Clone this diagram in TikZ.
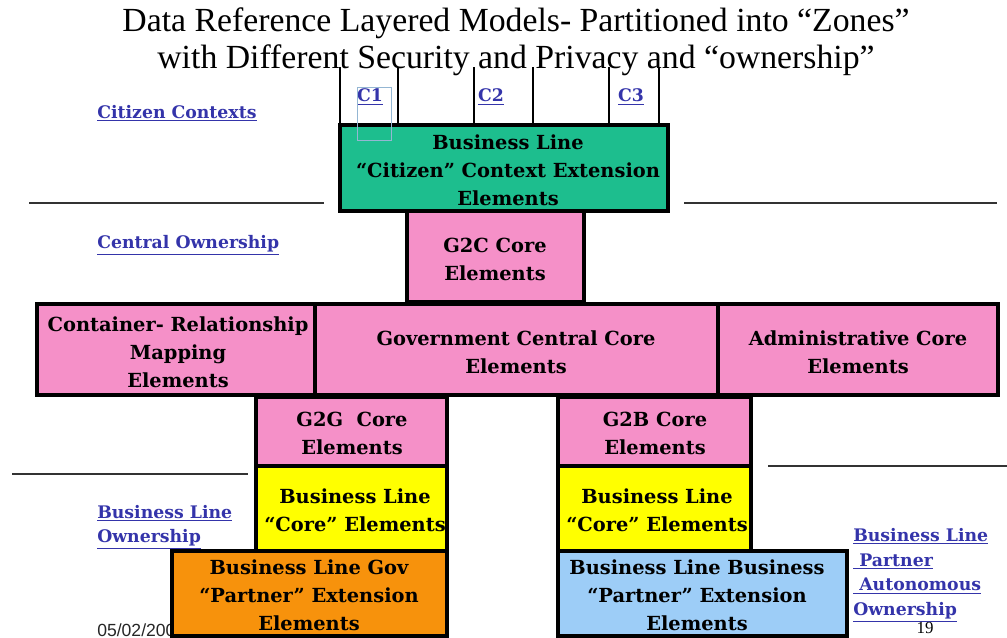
\documentclass[tikz,border=0pt]{standalone}
\usepackage{fontspec}
\setmainfont{Liberation Serif}
\newfontfamily\boxfont[Ligatures=TeX]{DejaVu Serif}
\newfontfamily\datefont{Liberation Sans}
\usepackage{tikz}
\usetikzlibrary{calc}
\definecolor{citizengreen}{HTML}{1DBE8E}
\definecolor{corepink}{HTML}{F590C8}
\definecolor{coreyellow}{HTML}{FFFF00}
\definecolor{govorange}{HTML}{F7920C}
\definecolor{busblue}{HTML}{9DCDF7}
\definecolor{linkblue}{HTML}{3434AA}

\tikzset{
  zone/.style={draw=black,line width=2.6pt},
  zonetext/.style={align=center,font=\boxfont\bfseries\fontsize{13.8}{20}\selectfont,inner sep=0pt},
  owner/.style={text=linkblue,align=left,anchor=west,inner sep=0pt,font=\boxfont\bfseries\fontsize{12.3}{17.5}\selectfont},
  sep/.style={black!80,line width=0.9pt}
}

\begin{document}
\begin{tikzpicture}[x=0.025cm,y=-0.025cm]
\useasboundingbox (0,0) rectangle (1007,638);
% title
\node (title) at (516,42) [align=center,font=\fontsize{24}{26.3}\selectfont] {Data Reference Layered Models- Partitioned into ``Zones''\\with Different Security and Privacy and ``ownership''};
% context lines from the title
\foreach \x in {340,398,474,533,609,659}
    \draw[black,line width=0.8pt] (\x,67) -- (\x,125);
\node (cone) at (370,97) [owner,anchor=center] {\underline{C1}};
\node (ctwo) at (491,97) [owner,anchor=center] {\underline{C2}};
\node (cthree) at (631,97) [owner,anchor=center] {\underline{C3}};
% zone separators
\draw[sep] (29,203) -- (324,203);
\draw[sep] (684,203) -- (997,203);
\draw[sep] (12,474) -- (248,474);
\draw[sep] (768,466) -- (1007,466);
% date (partly under the orange box)
\node (date) at (97,630) [anchor=west,inner sep=0pt,text=black!85,font=\datefont\fontsize{12.5}{14}\selectfont] {05/02/2005};
% boxes
\filldraw[zone,fill=citizengreen] (340,125) rectangle (668,211);
\filldraw[zone,fill=corepink] (407,211) rectangle (584,302);
\filldraw[zone,fill=corepink] (37,304) rectangle (315,395);
\filldraw[zone,fill=corepink] (315,304) rectangle (718,395);
\filldraw[zone,fill=corepink] (718,304) rectangle (998,395);
\filldraw[zone,fill=corepink] (256,397) rectangle (447,466);
\filldraw[zone,fill=corepink] (558,397) rectangle (751,466);
\filldraw[zone,fill=coreyellow] (256,466) rectangle (447,551);
\filldraw[zone,fill=coreyellow] (558,466) rectangle (751,551);
\filldraw[zone,fill=govorange] (172,551) rectangle (447,636);
\filldraw[zone,fill=busblue] (558,551) rectangle (847,636);
\draw[busblue!70!gray,line width=0.7pt] (357,87) rectangle (391,140);
% box texts
\node (citizen) at (508,170) [zonetext] {Business Line\\``Citizen'' Context Extension\\Elements};
\node (gtoc) at (495,259) [zonetext] {G2C Core\\Elements};
\node (container) at (178,352) [zonetext] {Container- Relationship\\Mapping\\Elements};
\node (govcentral) at (516,352) [zonetext] {Government Central Core\\Elements};
\node (admin) at (858,352) [zonetext] {Administrative Core\\Elements};
\node (gtog) at (352,433) [zonetext] {G2G\ \ Core\\Elements};
\node (gtob) at (655,433) [zonetext] {G2B Core\\Elements};
\node (linecoreg) at (355,510) [zonetext] {Business Line\\``Core'' Elements};
\node (linecoreb) at (657,510) [zonetext] {Business Line\\``Core'' Elements};
\node (partnergov) at (309,595) [zonetext] {Business Line Gov\\``Partner'' Extension\\Elements};
\node (partnerbus) at (697,595) [zonetext] {Business Line Business\\``Partner'' Extension\\Elements};
% ownership labels
\node (citizenctx) at (97,113) [owner] {\underline{Citizen Contexts}};
\node (central) at (97,245) [owner] {\underline{Central Ownership}};
\node (lineown) at (97,527) [owner] {\underline{Business Line}\\\underline{Ownership}};
\node (partnerown) at (853,575) [owner] {\underline{Business Line}\\\underline{ Partner}\\\underline{ Autonomous}\\\underline{Ownership}};
\node (page) at (925,628) [inner sep=0pt,font=\fontsize{12}{14}\selectfont] {19};
\end{tikzpicture}
\end{document}
